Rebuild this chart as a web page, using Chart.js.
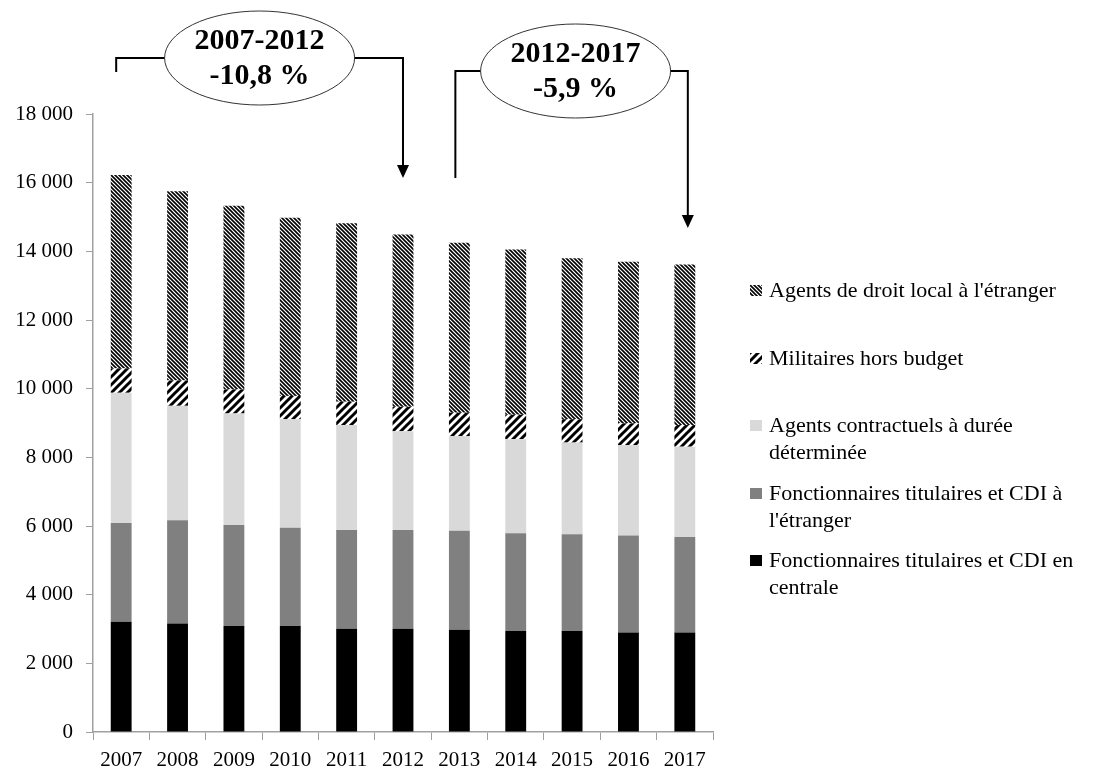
<!DOCTYPE html>
<html>
<head>
<meta charset="utf-8">
<script src="https://cdn.jsdelivr.net/npm/chart.js@4"></script>
<style>
  body { margin: 0; background: #fff; }
  #wrap { position: relative; width: 1105px; height: 769px; }
  #legend { position: absolute; left: 750px; top: 276px; font-family: 'Liberation Serif', serif; font-size: 22px; color: #000; }
  .item { height: 67.5px; display: flex; align-items: flex-start; }
  .item canvas { margin-top: 9px; margin-right: 7px; flex: none; }
  .item span { line-height: 27px; white-space: pre-line; }
</style>
</head>
<body>
<div id="wrap">
  <canvas id="chart"></canvas>
  <div id="legend"></div>
</div>
<script>
const years = ['2007', '2008', '2009', '2010', '2011', '2012', '2013', '2014', '2015', '2016', '2017'];

// effectifs, du bas vers le haut de chaque barre
const centrale     = [3210, 3160, 3090, 3090, 3010, 3010, 2980, 2940, 2940, 2900, 2900];
const etranger     = [2880, 3010, 2940, 2860, 2870, 2870, 2880, 2850, 2820, 2820, 2780];
const contractuels = [3790, 3330, 3250, 3160, 3060, 2880, 2760, 2740, 2670, 2640, 2630];
const militaires   = [710, 740, 700, 680, 680, 710, 680, 710, 680, 630, 630];
const droitLocal   = [5630, 5510, 5350, 5190, 5200, 5020, 4950, 4810, 4690, 4710, 4680];

const names = [
  'Fonctionnaires titulaires et CDI en\ncentrale',
  'Fonctionnaires titulaires et CDI à\nl\'étranger',
  'Agents contractuels à durée\ndéterminée',
  'Militaires hors budget',
  'Agents de droit local à l\'étranger'
];

const periods = ['2007-2012', '2012-2017'];
const changes = ['-10,8 %', '-5,9 %'];

function stripes(size, width, back) {
  const c = document.createElement('canvas');
  c.width = size; c.height = size;
  const g = c.getContext('2d');
  g.fillStyle = '#fff';
  g.fillRect(0, 0, size, size);
  g.strokeStyle = '#000';
  g.lineWidth = width;
  g.beginPath();
  for (let k = -1; k <= 1; k++) {
    if (back) { // "\"
      g.moveTo(k * size - 1, -1); g.lineTo(k * size + size + 1, size + 1);
    } else {    // "/"
      g.moveTo(k * size - 1, size + 1); g.lineTo(k * size + size + 1, -1);
    }
  }
  g.stroke();
  return g.createPattern(c, 'repeat');
}

const fills = ['#000000', '#808080', '#d9d9d9', stripes(8, 3, false), stripes(4, 1.6, true)];
const series = [centrale, etranger, contractuels, militaires, droitLocal];

const annotations = {
  id: 'annotations',
  afterDraw(chart) {
    const x = chart.scales.x;
    const ctx = chart.ctx;
    const spans = [
      { l: x.getPixelForValue(0) - 5, r: x.getPixelForValue(5), cy: 58, ld: 72, rd: 178, dx: 0 },
      { l: x.getPixelForValue(6) - 4, r: x.getPixelForValue(10) + 3, cy: 71, ld: 178, rd: 228, dx: 4 }
    ];
    ctx.save();
    spans.forEach((s, i) => {
      const cx = (s.l + s.r) / 2 + s.dx;
      ctx.strokeStyle = '#000';
      ctx.lineWidth = 2;
      ctx.beginPath();
      ctx.moveTo(s.l, s.ld); ctx.lineTo(s.l, s.cy); ctx.lineTo(cx, s.cy);
      ctx.moveTo(cx, s.cy); ctx.lineTo(s.r, s.cy); ctx.lineTo(s.r, s.rd - 12);
      ctx.stroke();
      ctx.fillStyle = '#000';
      ctx.beginPath();
      ctx.moveTo(s.r - 6, s.rd - 13); ctx.lineTo(s.r + 6, s.rd - 13); ctx.lineTo(s.r, s.rd);
      ctx.closePath();
      ctx.fill();
      ctx.beginPath();
      ctx.ellipse(cx, s.cy, 95, 47, 0, 0, Math.PI * 2);
      ctx.fillStyle = '#fff';
      ctx.fill();
      ctx.lineWidth = 1;
      ctx.strokeStyle = '#333';
      ctx.stroke();
      ctx.fillStyle = '#000';
      ctx.font = "bold 30px 'Liberation Serif', serif";
      ctx.textAlign = 'center';
      ctx.textBaseline = 'middle';
      ctx.fillText(periods[i], cx, s.cy - 17);
      ctx.fillText(changes[i], cx, s.cy + 18);
    });
    ctx.restore();
  }
};

Chart.defaults.font.family = "'Liberation Serif', serif";
Chart.defaults.font.size = 21;
Chart.defaults.color = '#000';

const chart = new Chart(document.getElementById('chart'), {
  type: 'bar',
  data: {
    labels: years,
    datasets: series.map((d, i) => ({
      label: names[i],
      data: d,
      backgroundColor: fills[i],
      borderWidth: 0,
      barPercentage: 0.37,
      categoryPercentage: 1
    }))
  },
  options: {
    responsive: true,
    maintainAspectRatio: false,
    animation: false,
    layout: { padding: { top: 114, right: 392, left: 0, bottom: 0 } },
    plugins: { legend: { display: false }, tooltip: { enabled: false } },
    scales: {
      x: {
        stacked: true,
        offset: true,
        afterFit: s => { s.height = 37; },
        grid: { drawOnChartArea: false, offset: true, tickLength: 8, color: '#a0a0a0' },
        border: { color: '#a0a0a0', width: 1.5 },
        ticks: { padding: 8, maxRotation: 0 }
      },
      y: {
        stacked: true,
        min: 0,
        max: 18000,
        afterFit: s => { s.width = 93; },
        grid: { drawOnChartArea: false, tickLength: 7, color: '#a0a0a0' },
        border: { color: '#a0a0a0', width: 1.5 },
        ticks: {
          stepSize: 2000,
          padding: 13,
          callback: v => v === 0 ? '0' : String(v).replace(/\B(?=(\d{3})+(?!\d))/g, ' ')
        }
      }
    }
  },
  plugins: [annotations]
});

// légende : de haut en bas, ordre inverse des séries
const legend = document.getElementById('legend');
chart.data.datasets.slice().reverse().forEach(ds => {
  const item = document.createElement('div');
  item.className = 'item';
  const sw = document.createElement('canvas');
  sw.width = 12; sw.height = 11;
  const g = sw.getContext('2d');
  g.fillStyle = ds.backgroundColor;
  g.fillRect(0, 0, 12, 11);
  const txt = document.createElement('span');
  txt.textContent = ds.label;
  item.appendChild(sw);
  item.appendChild(txt);
  legend.appendChild(item);
});
</script>
</body>
</html>
